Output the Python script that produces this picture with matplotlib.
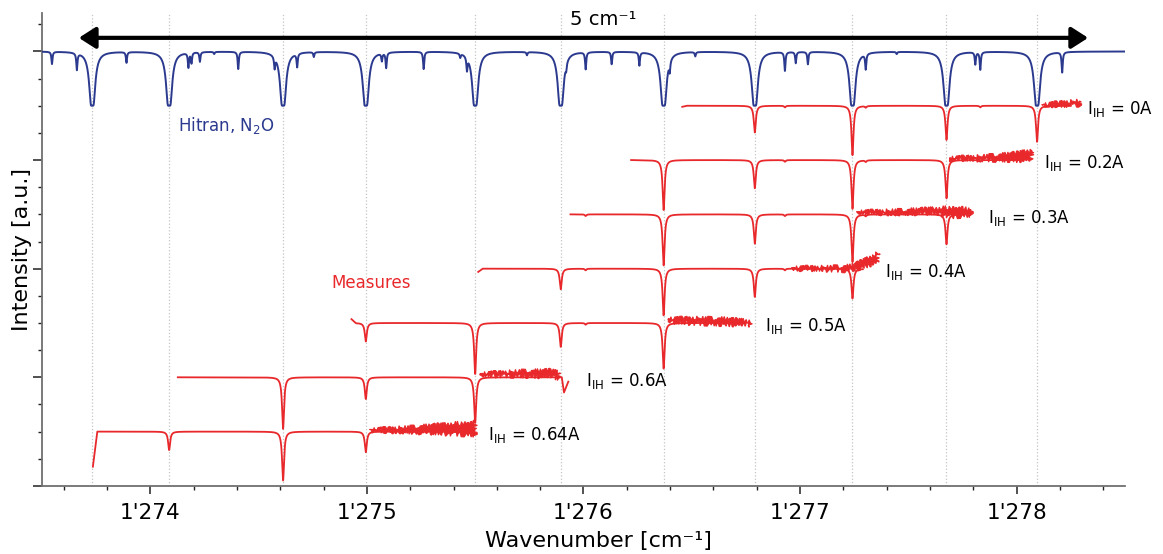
import numpy as np
import matplotlib
matplotlib.use("Agg")
from matplotlib import pyplot as plt
from matplotlib.ticker import MultipleLocator, FuncFormatter

# strong N2O lines [cm-1] (also where the dotted guides are)
line_centres = [1273.732, 1274.087, 1274.613, 1274.995, 1275.500, 1275.895,
                1276.370, 1276.791, 1277.242, 1277.676, 1278.094]

# weaker Hitran lines and their dip depth [a.u.]
weak_centres = [1273.546, 1273.661, 1273.890, 1274.176, 1274.190, 1274.229,
                1274.295, 1274.406, 1274.574, 1274.678, 1274.755, 1275.069,
                1275.089, 1275.262, 1275.431, 1275.462, 1275.739, 1275.920,
                1276.010, 1276.130, 1276.258, 1276.398, 1276.516, 1276.930,
                1276.980, 1277.036, 1277.303, 1277.446, 1277.809, 1277.832,
                1278.210]
weak_depths = [0.114, 0.16, 0.10, 0.14, 0.10, 0.09,
               0.02, 0.16, 0.12, 0.13, 0.045, 0.075,
               0.145, 0.16, 0.04, 0.14, 0.03, 0.08,
               0.16, 0.115, 0.125, 0.12, 0.04, 0.175,
               0.105, 0.115, 0.15, 0.02, 0.115, 0.165,
               0.19]

# measured traces, one per heater current
currents = ["0A", "0.2A", "0.3A", "0.4A", "0.5A", "0.6A", "0.64A"]
offsets = [3.5, 3.0, 2.5, 2.0, 1.5, 1.0, 0.5]
trace_start = [1276.456, 1276.22, 1275.94, 1275.514, 1274.929, 1274.127, 1273.735]
trace_end = [1278.25, 1278.03, 1277.76, 1277.29, 1276.74, 1275.90, 1275.48]
start_level = [3.49, 3.0, 2.50, 1.97, 1.535, 1.0, 0.177]

# dip depth of each trace at the strong lines (same order as line_centres)
dips_0A = [0, 0, 0, 0, 0, 0, 0, 0.246, 0.455, 0.315, 0.332]
dips_02A = [0, 0, 0, 0, 0, 0, 0.46, 0.26, 0.45, 0.353, 0]
dips_03A = [0, 0, 0, 0, 0, 0, 0.47, 0.27, 0.44, 0.276, 0]
dips_04A = [0, 0, 0, 0, 0, 0.19, 0.43, 0.26, 0.275, 0, 0]
dips_05A = [0, 0, 0, 0.17, 0.47, 0.22, 0.42, 0, 0, 0, 0]
dips_06A = [0, 0, 0.475, 0.2, 0.42, 0, 0, 0, 0, 0, 0]
dips_064A = [0, 0.17, 0.45, 0.19, 0, 0, 0, 0, 0, 0, 0]
dips = [dips_0A, dips_02A, dips_03A, dips_04A, dips_05A, dips_06A, dips_064A]

# small features seen in the measured traces
red_weak_centres = [1276.010, 1276.930, 1277.303, 1277.832]
red_weak_depth = 0.015

# hook at the very end of the 0.6A trace
tail_x = [[], [], [], [], [], [1275.91, 1275.93], []]
tail_y = [[], [], [], [], [], [0.86, 0.96], []]

# noisy band at the end of each trace: x, lower and upper envelope
noise_x = [[1278.12, 1278.20, 1278.29],
           [1277.69, 1277.85, 1278.00, 1278.07],
           [1277.27, 1277.45, 1277.62, 1277.70, 1277.79],
           [1276.97, 1277.15, 1277.23, 1277.27, 1277.36],
           [1276.39, 1276.50, 1276.65, 1276.77],
           [1275.53, 1275.70, 1275.85, 1275.89],
           [1275.02, 1275.20, 1275.40, 1275.50]]
noise_lo = [[3.50, 3.50, 3.505],
            [3.005, 3.0, 2.995, 3.0],
            [2.51, 2.505, 2.51, 2.475, 2.49],
            [1.995, 1.985, 1.98, 2.00, 2.06],
            [1.51, 1.495, 1.485, 1.48],
            [1.015, 1.01, 1.005, 0.985],
            [0.505, 0.495, 0.475, 0.465]]
noise_hi = [[3.51, 3.53, 3.545],
            [3.02, 3.035, 3.065, 3.095],
            [2.525, 2.535, 2.555, 2.565, 2.545],
            [2.01, 2.015, 2.025, 2.055, 2.145],
            [1.54, 1.545, 1.54, 1.52],
            [1.035, 1.055, 1.065, 1.045],
            [0.52, 0.54, 0.575, 0.585]]

label_x = [1278.325, 1278.126, 1277.867, 1277.39, 1276.838, 1276.01, 1275.56]

BLUE = "#2b3a8f"
RED = "#e8282b"


def lorentz(x, c, g):
    return 1.0 / (1.0 + ((x - c) / g) ** 2)


wn = np.linspace(1273.5, 1278.5, 30000)

# hitran transmission, saturated strong lines
absorb = np.zeros_like(wn)
for c in line_centres:
    absorb += 25 * lorentz(wn, c, 0.0028)
for c, d in zip(weak_centres, weak_depths):
    absorb += -np.log(1 - d / 0.5) * lorentz(wn, c, 0.0028)
hitran = 3.5 + 0.5 * np.exp(-absorb)

fig = plt.figure(figsize=(11.63, 5.54), dpi=100)
ax = fig.add_axes([0.0361, 0.1229, 0.9312, 0.8529])

for c in line_centres:
    ax.axvline(c, color="#c4c4c4", ls=":", lw=0.9, zorder=0)

ax.plot(wn, hitran, color=BLUE, lw=1.4, zorder=3)

for i in range(len(currents)):
    x = wn[(wn >= trace_start[i] + 0.02) & (wn <= trace_end[i])]
    y = np.full_like(x, offsets[i])
    for c, d in zip(line_centres, dips[i]):
        if d > 0:
            y -= d * lorentz(x, c, 0.0055)
    for c in red_weak_centres:
        y -= red_weak_depth * lorentz(x, c, 0.004)
    xs = np.concatenate([[trace_start[i]], x, tail_x[i]])
    ys = np.concatenate([[start_level[i]], y, tail_y[i]])

    # noisy end of the trace as a band with ragged edges
    px = noise_x[i] + noise_x[i][::-1]
    py = noise_hi[i] + noise_lo[i][::-1]
    band = ax.fill(px, py, color=RED, lw=0.8, zorder=2)[0]
    band.set_sketch_params(scale=2.2, length=1.0, randomness=2)

    ax.plot(xs, ys, color=RED, lw=1.3, zorder=2)
    ax.text(label_x[i], offsets[i] - 0.03, r"I$_\mathregular{IH}$ = " + currents[i],
            fontsize=12, va="center", ha="left")

ax.text(1274.13, 3.32, r"Hitran, N$_2$O", color=BLUE, fontsize=12, va="center")
ax.text(1274.834, 1.865, "Measures", color=RED, fontsize=12, va="center")

# 5 cm-1 span arrow
ax.annotate("", xy=(1278.33, 4.125), xytext=(1273.67, 4.125),
            arrowprops=dict(arrowstyle="<|-|>,head_length=0.5,head_width=0.32",
                            lw=3, color="black", mutation_scale=20,
                            shrinkA=0, shrinkB=0))
ax.text(1276.09, 4.29, "5 cm\u207b\u00b9", fontsize=14, ha="center", va="center")

ax.set_xlim(1273.5, 1278.5)
ax.set_ylim(0, 4.35)
ax.xaxis.set_major_locator(MultipleLocator(1))
ax.xaxis.set_minor_locator(MultipleLocator(0.2))
ax.yaxis.set_major_locator(MultipleLocator(1))
ax.yaxis.set_minor_locator(MultipleLocator(0.25))
ax.xaxis.set_major_formatter(FuncFormatter(lambda v, p: f"{int(round(v)) // 1000}'{int(round(v)) % 1000:03d}"))
ax.set_yticklabels([])
ax.tick_params(which="major", length=6, width=1.1, labelsize=15.5, color="#222222", pad=6.5)
ax.tick_params(which="minor", length=3.2, width=1.0, color="#222222")
ax.tick_params(axis="y", which="major", length=6.5)

for side in ["top", "right"]:
    ax.spines[side].set_visible(False)
for side in ["left", "bottom"]:
    ax.spines[side].set_color("#707070")
    ax.spines[side].set_linewidth(1.3)

ax.set_xlabel("Wavenumber [cm\u207b\u00b9]", fontsize=16)
ax.xaxis.set_label_coords(0.514, -0.095)
ax.set_ylabel("Intensity [a.u.]", fontsize=16)
ax.yaxis.set_label_coords(-0.009, 0.5)

fig.savefig("out.png", dpi=100)
